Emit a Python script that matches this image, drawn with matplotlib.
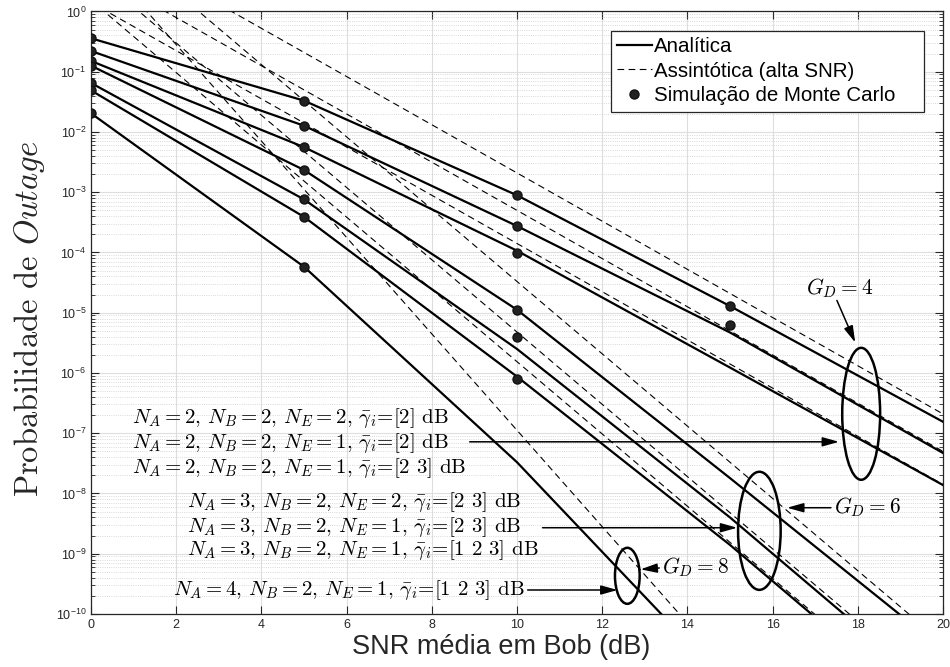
import matplotlib
matplotlib.use("Agg")
import matplotlib.pyplot as plt
from matplotlib.patches import Ellipse
from matplotlib.ticker import LogLocator, NullFormatter

plt.rcParams['font.family'] = ['Liberation Sans', 'DejaVu Sans']
plt.rcParams['mathtext.fontset'] = 'cm'

# SNR média em Bob (dB) onde as curvas analíticas foram calculadas
snr = [0, 5, 10, 15, 20]

# curvas analíticas
an1 = [3.59e-1, 3.31e-2, 8.9e-4, 1.29e-5, 1.55e-7]
an2 = [2.21e-1, 1.27e-2, 2.75e-4, 4.7e-6, 4.7e-8]
an3 = [1.51e-1, 5.6e-3, 1.07e-4, 1.23e-6, 1.38e-8]
an4 = [1.26e-1, 2.34e-3, 1.12e-5, 1.8e-8, 2.6e-11]
an5 = [6.5e-2, 7.6e-4, 2.5e-6, 4.0e-9, 4.0e-12]
an6 = [4.9e-2, 3.9e-4, 8.7e-7, 1.4e-9, 1.4e-12]
an7 = [2.04e-2, 5.8e-5, 3.3e-8, 6.3e-12, 6.3e-16]

# simulação de Monte Carlo
snr_sim = [0, 5, 10, 15]
sim1 = [3.59e-1, 3.31e-2, 8.9e-4, 1.29e-5]
sim2 = [2.21e-1, 1.27e-2, 2.75e-4, 6.2e-6]
sim3 = [1.51e-1, 5.6e-3, 9.8e-5]
sim4 = [1.26e-1, 2.34e-3, 1.12e-5]
sim5 = [6.5e-2, 7.6e-4, 3.9e-6]
sim6 = [4.9e-2, 3.9e-4, 7.9e-7]
sim7 = [2.04e-2, 5.8e-5]

# assintóticas (alta SNR): valores em 0 dB e em 20 dB
snr_ass = [0, 20]
as1 = [20.9, 2.09e-7]
as2 = [5.0, 5.0e-8]
as3 = [1.41, 1.41e-8]
as4 = [33.0, 3.3e-11]
as5 = [4.76, 4.8e-12]
as6 = [1.53, 1.55e-12]
as7 = [11.2, 1.12e-15]

rotulos = [
    r'$N_A = 2$, $N_B = 2$, $N_E = 2$, $\bar{\gamma}_i$=[2] dB',
    r'$N_A = 2$, $N_B = 2$, $N_E = 1$, $\bar{\gamma}_i$=[2] dB',
    r'$N_A = 2$, $N_B = 2$, $N_E = 1$, $\bar{\gamma}_i$=[2 3] dB',
    r'$N_A = 3$, $N_B = 2$, $N_E = 2$, $\bar{\gamma}_i$=[2 3] dB',
    r'$N_A = 3$, $N_B = 2$, $N_E = 1$, $\bar{\gamma}_i$=[2 3] dB',
    r'$N_A = 3$, $N_B = 2$, $N_E = 1$, $\bar{\gamma}_i$=[1 2 3] dB',
    r'$N_A = 4$, $N_B = 2$, $N_E = 1$, $\bar{\gamma}_i$=[1 2 3] dB',
]

analiticas = [an1, an2, an3, an4, an5, an6, an7]
simulacoes = [sim1, sim2, sim3, sim4, sim5, sim6, sim7]
assintoticas = [as1, as2, as3, as4, as5, as6, as7]

fig, ax = plt.subplots(figsize=(9.5, 6.67), dpi=100)
fig.subplots_adjust(left=0.0958, right=0.9926, bottom=0.0795, top=0.9828)

for i, a in enumerate(analiticas):
    ax.semilogy(snr, a, '-', color='k', lw=1.6, zorder=3,
                label='Analítica' if i == 0 else None)
for i, a in enumerate(assintoticas):
    ax.semilogy(snr_ass, a, color='k', lw=0.8, dashes=(6, 4), zorder=2,
                label='Assintótica (alta SNR)' if i == 0 else None)
for i, s in enumerate(simulacoes):
    ax.semilogy(snr_sim[:len(s)], s, 'o', ms=6.5, mfc='#222222', mec='#111111',
                zorder=4, label='Simulação de Monte Carlo    ' if i == 0 else None)

ax.set_xlim(0, 20)
ax.set_ylim(1e-10, 1)
ax.set_xticks(range(0, 21, 2))
ax.set_yticks([10.0 ** k for k in range(-10, 1)])
ax.yaxis.set_minor_locator(LogLocator(base=10, subs=range(2, 10), numticks=20))
ax.yaxis.set_minor_formatter(NullFormatter())
ax.tick_params(which='both', direction='in', top=True, right=True,
               labelsize=9, colors='#262626')
ax.tick_params(which='major', length=6)
ax.tick_params(which='minor', length=3)
ax.grid(which='major', color='#dedede', lw=0.8, ls='-')
ax.grid(which='minor', axis='y', color='#cccccc', lw=0.6, ls=':')
ax.set_axisbelow(True)
for sp in ax.spines.values():
    sp.set_color('#262626')
    sp.set_linewidth(0.9)

ax.set_xlabel('SNR média em Bob (dB)', fontsize=19.5, color='#262626')
ax.xaxis.set_label_coords(0.481, -0.033)
ax.set_ylabel('Probabilidade de $Outage$', family='cmr10', fontsize=23.5,
              color='#262626')
ax.yaxis.set_label_coords(-0.052, 0.49)

leg = ax.legend(loc='upper right', bbox_to_anchor=(0.978, 0.968), borderaxespad=0,
                fontsize=14.8, fancybox=False, framealpha=1, edgecolor='#262626',
                handlelength=1.7, handletextpad=0.1, labelspacing=0.28,
                borderpad=0.3)
leg.get_frame().set_linewidth(0.9)

# textos das configurações
pos_texto = [(0.96, 1.78e-7), (0.96, 6.9e-8), (0.96, 2.6e-8),
             (2.26, 7.3e-9), (2.26, 2.8e-9), (2.26, 1.15e-9),
             (1.93, 2.5e-10)]
for (x, y), t in zip(pos_texto, rotulos):
    ax.text(x, y, t, family='cmr10', fontsize=15, ha='left', va='center', zorder=5)

seta = dict(arrowstyle='-|>,head_length=1.0,head_width=0.28', color='k', lw=1.1,
            shrinkA=0, shrinkB=0)
ax.annotate('', xy=(17.56, 7.2e-8), xytext=(8.89, 7.2e-8), arrowprops=seta)
ax.annotate('', xy=(15.17, 2.7e-9), xytext=(10.6, 2.7e-9), arrowprops=seta)
ax.annotate('', xy=(12.36, 2.5e-10), xytext=(10.25, 2.5e-10), arrowprops=seta)

# ganhos de diversidade
ax.text(17.57, 2.6e-5, r'$G_D = 4$', fontsize=15.5, ha='center', va='center')
ax.annotate('', xy=(17.94, 3.2e-6), xytext=(17.51, 1.6e-5), arrowprops=seta)
ax.text(17.44, 6.0e-9, r'$G_D = 6$', fontsize=15.5, ha='left', va='center')
ax.annotate('', xy=(16.34, 5.8e-9), xytext=(17.37, 5.8e-9), arrowprops=seta)
ax.text(13.41, 6.0e-10, r'$G_D = 8$', fontsize=15.5, ha='left', va='center')
ax.annotate('', xy=(12.9, 5.5e-10), xytext=(13.34, 5.8e-10), arrowprops=seta)


def elipse(x, y, larg_db, alt_dec):
    cx, cy = (ax.transScale + ax.transLimits).transform((x, y))
    ax.add_patch(Ellipse((cx, cy), larg_db / 20, alt_dec / 10, transform=ax.transAxes,
                         fill=False, ec='k', lw=1.8, zorder=5))


elipse(18.08, 2.1e-7, 0.89, 2.19)
elipse(15.69, 2.4e-9, 1.0, 1.96)
elipse(12.59, 4.3e-10, 0.58, 0.93)

plt.savefig('out.png', dpi=100)
